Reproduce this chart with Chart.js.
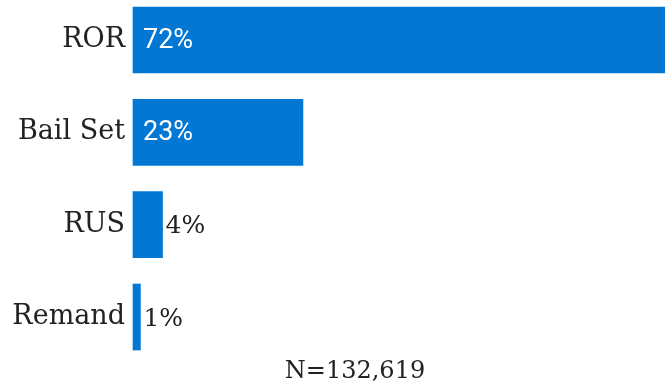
<!DOCTYPE html>
<html>
<head>
<meta charset="utf-8">
<script src="https://cdn.jsdelivr.net/npm/chart.js@4/dist/chart.umd.min.js"></script>
<style>
  html, body { margin: 0; padding: 0; background: #fff; }
  #wrap { width: 665px; height: 388px; }
</style>
</head>
<body>
<div id="wrap"><canvas id="c" width="665" height="388"></canvas></div>
<script>
// Release outcome shares
const categories = ['ROR', 'Bail Set', 'RUS', 'Remand'];
const shares = [72, 23, 4, 1];
const valueLabels = ['72%', '23%', '4%', '1%'];
const footnote = 'N=132,619';

const BAR_BLUE = '#0277d4';
const INK = '#222222';
const SLAB = '"DejaVu Serif", serif';
const SANS = 'Roboto, sans-serif';

// Writes each share on its bar: inside in white when it fits, otherwise just past the bar end.
const barValueLabels = {
  id: 'barValueLabels',
  afterDatasetsDraw(chart) {
    const ctx = chart.ctx;
    const meta = chart.getDatasetMeta(0);
    ctx.save();
    ctx.textBaseline = 'middle';
    ctx.textAlign = 'left';
    meta.data.forEach((bar, i) => {
      const text = valueLabels[i];
      const barLen = bar.x - bar.base;
      ctx.font = '27px ' + SANS;
      const w = ctx.measureText(text).width;
      if (w + 20 < barLen) {
        ctx.fillStyle = '#ffffff';
        ctx.fillText(text, bar.base + 10, bar.y + 1);
      } else {
        ctx.font = '25px ' + SLAB;
        ctx.fillStyle = INK;
        ctx.fillText(text, bar.x + 3, bar.y + 2);
      }
    });
    ctx.restore();
  }
};

// Sample-size note under the bars.
const sampleNote = {
  id: 'sampleNote',
  afterDraw(chart) {
    const ctx = chart.ctx;
    ctx.save();
    ctx.font = '24px ' + SLAB;
    ctx.fillStyle = INK;
    ctx.textAlign = 'center';
    ctx.textBaseline = 'middle';
    ctx.fillText(footnote, (45 + chart.width) / 2, chart.chartArea.bottom + 55);
    ctx.restore();
  }
};

new Chart(document.getElementById('c'), {
  type: 'bar',
  data: {
    labels: categories,
    datasets: [{
      data: shares,
      backgroundColor: BAR_BLUE,
      borderWidth: 0,
      barThickness: 66,
      clip: false
    }]
  },
  options: {
    indexAxis: 'y',
    responsive: false,
    animation: false,
    layout: { padding: { top: 40, left: 0, right: 0, bottom: 71 } },
    plugins: {
      legend: { display: false },
      tooltip: { enabled: false }
    },
    scales: {
      x: {
        display: false,
        min: 0,
        max: 72
      },
      y: {
        offset: false,
        grid: { display: false, drawTicks: false },
        border: { display: false },
        ticks: {
          color: INK,
          padding: 8,
          font: { family: SLAB, size: 27 }
        },
        afterFit(scale) { scale.width = 133; }
      }
    }
  },
  plugins: [barValueLabels, sampleNote]
});
</script>
</body>
</html>
